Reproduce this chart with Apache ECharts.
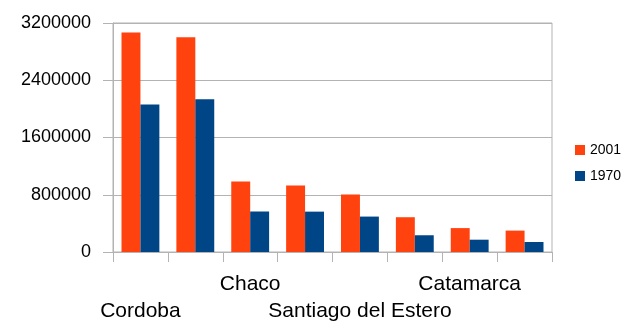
<!DOCTYPE html>
<html>
  <head>
    <meta http-equiv="Content-Type" content="text/html; charset=utf-8">
    <title>Poblacion por provincia</title>
    <style>
      html, body { margin: 0; padding: 0; background: #fff; }
      #chart { width: 626px; height: 325px; }
    </style>
    <script src="https://cdn.jsdelivr.net/npm/echarts@6/dist/echarts.min.js"></script>
  </head>
  <body>
    <div id="chart"></div>
    <script type="text/javascript">
      var categories = ['Cordoba', 'Santa Fe', 'Chaco', 'Corrientes', 'Santiago del Estero', 'Formosa', 'Catamarca', 'La Pampa'];
      var values2001 = [3066000, 3000000, 984000, 930000, 804000, 486000, 334000, 299000];
      var values1970 = [2060000, 2135000, 566000, 564000, 495000, 234000, 172000, 140000];
      var yTicks = [0, 800000, 1600000, 2400000, 3200000];

      var gridColor = '#b3b3b3';
      var myChart = echarts.init(document.getElementById('chart'));

      myChart.setOption({
        animation: false,
        textStyle: { fontFamily: 'Liberation Sans' },
        grid: {
          left: 113, right: 74, top: 23, bottom: 73,
          show: true, borderColor: gridColor, borderWidth: 1
        },
        legend: {
          orient: 'vertical',
          left: 575, top: 143, padding: 0,
          itemWidth: 10, itemHeight: 10, itemGap: 12,
          icon: 'rect',
          textStyle: { fontSize: 14, color: '#000' },
          data: ['2001', '1970']
        },
        xAxis: {
          type: 'category',
          data: categories,
          axisLine: { lineStyle: { color: gridColor } },
          axisTick: { show: true, interval: 0, length: 10, lineStyle: { color: gridColor } },
          axisLabel: {
            interval: 0,
            margin: 19,
            fontSize: 21,
            lineHeight: 27,
            color: '#000',
            formatter: function (value, index) {
              if (index % 2 === 1) return '';
              return index % 4 === 0 ? '\n' + value : value;
            }
          }
        },
        yAxis: {
          type: 'value',
          min: yTicks[0],
          max: yTicks[yTicks.length - 1],
          interval: yTicks[1] - yTicks[0],
          axisLine: { show: true, lineStyle: { color: gridColor } },
          axisTick: { show: true, length: 10, lineStyle: { color: gridColor } },
          splitLine: { lineStyle: { color: gridColor } },
          axisLabel: {
            fontSize: 18, color: '#000', margin: 22,
            formatter: function (v) { return String(v); }
          }
        },
        series: [
          {
            name: '2001', type: 'bar', data: values2001,
            itemStyle: { color: '#ff420e' },
            barGap: 0, barCategoryGap: '31%'
          },
          {
            name: '1970', type: 'bar', data: values1970,
            itemStyle: { color: '#004586' },
            barGap: 0, barCategoryGap: '31%'
          }
        ]
      });
    </script>
  </body>
</html>
